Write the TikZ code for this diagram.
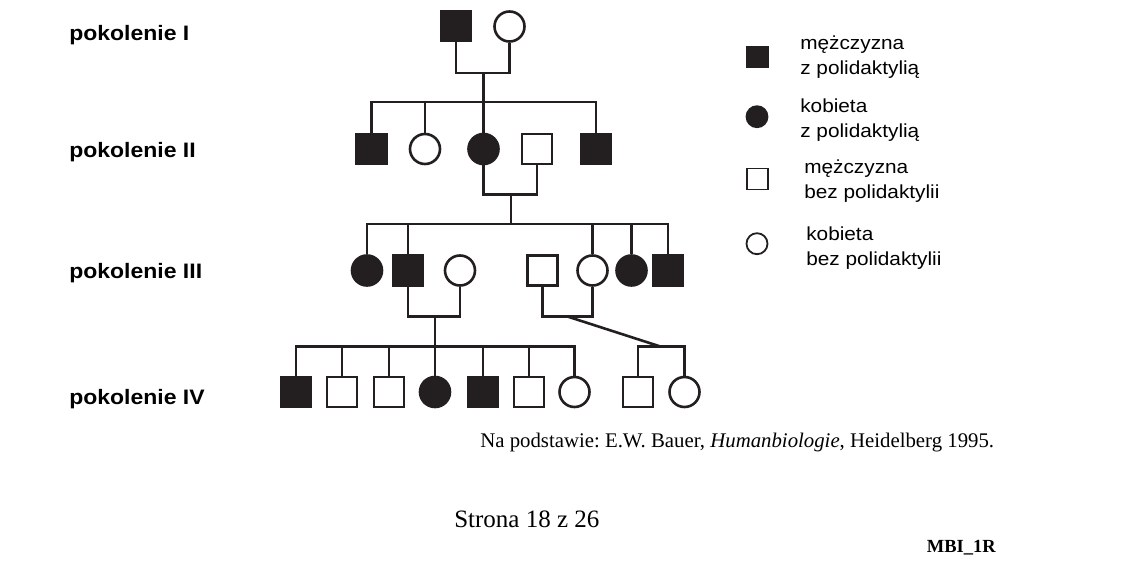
\documentclass[tikz,border=0pt]{standalone}
\usepackage{fontspec}
\setmainfont{Liberation Serif}
\newfontfamily\legendfont[FakeStretch=1.1]{Liberation Sans}
\usepackage{tikz}
\definecolor{inkcolor}{RGB}{35, 31, 32}
\frenchspacing

\begin{document}
\begin{tikzpicture}[x=1pt, y=-1pt, line width=2.6pt, draw=inkcolor,
    person/.style={draw=inkcolor, line width=2.6pt, minimum size=30pt, inner sep=0pt, fill=white},
    male/.style={person, rectangle},
    female/.style={person, circle},
    affected/.style={fill=inkcolor},
    legsym/.style={draw=inkcolor, line width=1.8pt, minimum size=21pt, inner sep=0pt, fill=white},
    genlabel/.style={anchor=base west, inner sep=0pt, font=\legendfont\bfseries\fontsize{20.9}{24}\selectfont},
    legtext/.style={anchor=west, align=left, inner sep=0pt, font=\legendfont\fontsize{18.9}{25}\selectfont}]
        \useasboundingbox (0,0) rectangle (1146,564);

        % Generation labels
        \node[genlabel] (gI) at (68,40.7) {pokolenie I};
        \node[genlabel] (gII) at (68,157.5) {pokolenie II};
        \node[genlabel] (gIII) at (68,278.3) {pokolenie III};
        \node[genlabel] (gIV) at (68,404.3) {pokolenie IV};

        % Generation I
        \node[male, affected] (I1) at (456,26) {};
        \node[female] (I2) at (509.5,26.5) {};

        % Generation II
        \node[male, affected] (II1) at (371.5,149) {};
        \node[female] (II2) at (425,149) {};
        \node[female, affected] (II3) at (483.5,149) {};
        \node[male] (II4) at (537,149) {};
        \node[male, affected] (II5) at (596,149) {};

        % Generation III
        \node[female, affected] (III1) at (367,270.5) {};
        \node[male, affected] (III2) at (408,270.5) {};
        \node[female] (III3) at (460,270.5) {};
        \node[male] (III4) at (542.5,270.5) {};
        \node[female] (III5) at (592.5,270.5) {};
        \node[female, affected] (III6) at (631.5,270.5) {};
        \node[male, affected] (III7) at (668,270.5) {};

        % Generation IV
        \node[male, affected] (IV1) at (296,392) {};
        \node[male] (IV2) at (342,392) {};
        \node[male] (IV3) at (389,392) {};
        \node[female, affected] (IV4) at (435,392) {};
        \node[male, affected] (IV5) at (483,392) {};
        \node[male] (IV6) at (529,392) {};
        \node[female] (IV7) at (574.5,392) {};
        \node[male] (IV8) at (638,392) {};
        \node[female] (IV9) at (684.5,392) {};

        % Couples and sibships
        \coordinate (mI) at (483.5,73);
        \coordinate (sI) at (483.5,102);
        \draw (I1.south) |- (mI) -| (I2.south);
        \draw (mI) -- (sI);
        \draw (II1.north) |- (sI) -| (II5.north);
        \foreach \n in {II2, II3}
            \draw (\n.north) -- (\n.north |- sI);

        \coordinate (mII) at (511,194.3);
        \coordinate (sII) at (511,224);
        \draw (II3.south) |- (mII) -| (II4.south);
        \draw (mII) -- (sII);
        \draw (III1.north) |- (sII) -| (III7.north);
        \foreach \n in {III2, III5, III6}
            \draw (\n.north) -- (\n.north |- sII);

        \coordinate (mIIIa) at (435,316.7);
        \coordinate (sIIIa) at (435,346.7);
        \draw (III2.south) |- (mIIIa) -| (III3.south);
        \draw (mIIIa) -- (sIIIa);
        \draw (IV1.north) |- (sIIIa) -| (IV7.north);
        \foreach \n in {IV2, IV3, IV4, IV5, IV6}
            \draw (\n.north) -- (\n.north |- sIIIa);

        \coordinate (mIIIb) at (568,316.7);
        \coordinate (sIIIb) at (661,346.7);
        \draw (III4.south) |- (mIIIb) -| (III5.south);
        \draw (mIIIb) -- (sIIIb);
        \draw (IV8.north) |- (sIIIb) -| (IV9.north);

        % Legend
        \node[legsym, rectangle, affected] (lg1) at (757.5,57) {};
        \node[legsym, circle, affected] (lg2) at (757,116.7) {};
        \node[legsym, rectangle] (lg3) at (757.5,179) {};
        \node[legsym, circle] (lg4) at (757,243.7) {};
        \node[legtext] (lt1) at (799,56.7) {mężczyzna\\z polidaktylią};
        \node[legtext] (lt2) at (799,119.7) {kobieta\\z polidaktylią};
        \node[legtext] (lt3) at (803,180.7) {mężczyzna\\bez polidaktylii};
        \node[legtext] (lt4) at (805,248.2) {kobieta\\bez polidaktylii};

        % Source and page footer
        \node[anchor=base west, inner sep=0pt, font=\fontsize{20.8}{24}\selectfont] (src) at (479,447) {Na podstawie: E.W. Bauer, \textit{Humanbiologie}, Heidelberg 1995.};
        \node[anchor=base west, inner sep=0pt, font=\fontsize{25}{30}\selectfont] (page) at (453,527) {Strona 18 z 26};
        \node[anchor=base east, inner sep=0pt, font=\bfseries\fontsize{18.5}{22}\selectfont] (code) at (997,552) {MBI\_1R};

    \end{tikzpicture}
\end{document}
